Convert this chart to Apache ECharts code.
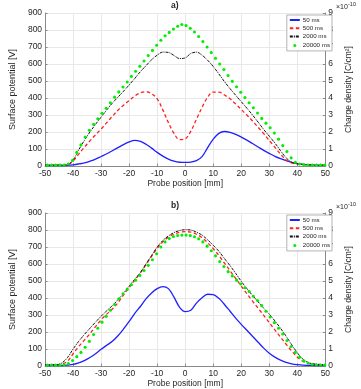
<!DOCTYPE html>
<html>
<head>
<meta charset="utf-8">
<script src="https://cdn.jsdelivr.net/npm/echarts@6/dist/echarts.min.js"></script>
<style>
html,body{margin:0;padding:0;background:#fff;}
#c{width:361px;height:389px;}
</style>
</head>
<body>
<div id="c"></div>
<script>
// ---- data ----
const seriesNames = ['50 ms', '500 ms', '2000 ms', '20000 ms'];
const panelTitles = ['a)', 'b)'];
const xTickLabels = [-50, -40, -30, -20, -10, 0, 10, 20, 30, 40, 50];

// probe positions [mm] of the line series
const xLine = [-50,-48,-46,-44,-42,-40,-38,-36,-34,-32,-30,-28,-26,-24,-22,-20,-18,-16,-14,-12,-10,-8,-6,-4,-2,0,2,4,6,8,10,12,14,16,18,20,22,24,26,28,30,32,34,36,38,40,42,44,46,48,50];
// probe positions [mm] of the 20000 ms dots
const xDots = [-49.2,-47.7,-46.2,-44.7,-43.2,-41.7,-40.2,-38.7,-37.2,-35.7,-34.2,-32.7,-31.2,-29.7,-28.2,-26.7,-25.2,-23.7,-22.2,-20.7,-19.2,-17.7,-16.2,-14.7,-13.2,-11.7,-10.2,-8.7,-7.2,-5.7,-4.2,-2.7,-1.2,0.3,1.8,3.3,4.8,6.3,7.8,9.3,10.8,12.3,13.8,15.3,16.8,18.3,19.8,21.3,22.8,24.3,25.8,27.3,28.8,30.3,31.8,33.3,34.8,36.3,37.8,39.3,40.8,42.3,43.8,45.3,46.8,48.3,49.8];

// panel a) surface potential [V]
const a50 = [3,3,3,3,4,7,12,18,28,40,56,72,90,108,126,142,151,145,128,105,80,58,40,28,22,21,23,32,55,108,158,192,203,198,186,170,152,132,112,92,74,57,43,31,21,14,10,7,5,4,3];
const a500 = [5,5,5,5,7,30,70,110,148,183,218,255,292,328,358,385,412,430,437,425,395,330,255,192,155,160,205,275,345,405,435,435,418,395,365,332,300,265,228,190,150,110,70,35,18,12,9,7,6,5,4];
const a2000 = [5,5,5,5,8,35,95,150,200,245,288,330,370,405,440,477,515,555,590,625,652,670,668,650,632,636,662,670,652,622,585,542,496,455,416,378,340,300,258,215,175,135,90,48,22,13,9,7,6,5,4];
const a20000 = [5,5,5,5,6,12,33,80,124,170,210,245,278,310,340,372,405,436,465,494,527,557,587,618,650,680,710,740,766,786,806,822,832,826,810,788,762,732,700,667,634,600,568,532,498,466,434,403,372,343,312,280,252,225,194,158,120,85,48,22,12,8,6,5,5,5,5];

// panel b) surface potential [V]
const b50 = [3,3,3,3,5,9,18,32,50,72,98,122,145,178,218,262,310,350,395,430,455,467,455,405,345,320,328,370,402,422,420,398,362,322,282,245,210,175,140,105,75,52,35,22,13,8,5,4,3,3,3];
const b500 = [8,8,8,12,28,72,115,152,190,232,272,305,335,372,418,462,505,548,596,645,692,730,758,776,786,790,788,775,755,725,690,650,605,560,515,470,425,382,340,298,255,212,170,128,88,52,28,16,11,9,8];
const b2000 = [8,8,8,18,50,100,145,185,222,258,293,325,355,390,428,470,510,550,600,650,700,738,765,785,797,802,800,787,770,742,710,675,632,590,545,498,455,415,378,340,305,265,222,175,125,78,40,20,12,9,8];
const b20000 = [5,5,5,5,7,15,32,55,80,110,145,185,222,258,292,328,362,395,425,452,478,505,533,562,592,625,660,700,730,750,762,768,770,770,767,760,748,730,705,678,648,615,585,555,530,505,482,460,438,410,385,355,322,288,255,222,188,150,115,80,52,30,17,10,7,6,5];

// ---- build the chart ----
const pair = (xs, ys) => xs.map((x, i) => [x, ys[i]]);
const FONT = 'Liberation Sans, Arial, sans-serif';
const TXT = '#262626';
const AX = '#8a8a8a';
const GRID = '#e8e8e8';

const panels = [
  {top: 13, height: 153, data: [a50, a500, a2000, a20000]},
  {top: 213, height: 153, data: [b50, b500, b2000, b20000]}
];

const grid = [], xAxis = [], yAxis = [], series = [], legend = [], title = [], graphic = [];

panels.forEach((p, k) => {
  grid.push({left: 25, top: p.top, width: 310, height: p.height, containLabel: false});
  xAxis.push({
    type: 'value', gridIndex: k, min: -50, max: 50, interval: 10,
    name: 'Probe position [mm]', nameLocation: 'middle', nameGap: 13,
    nameTextStyle: {fontFamily: FONT, fontSize: 8.5, color: TXT},
    axisLine: {onZero: false, lineStyle: {color: AX, width: 1}},
    axisTick: {inside: true, length: 2.5, lineStyle: {color: AX}},
    axisLabel: {fontFamily: FONT, fontSize: 8.5, color: TXT, margin: 3,
      formatter: v => xTickLabels.includes(v) ? String(v) : ''},
    splitLine: {show: true, lineStyle: {color: GRID, width: 1}}
  });
  yAxis.push({
    type: 'value', gridIndex: k, min: 0, max: 900, interval: 100, position: 'left',
    name: 'Surface potential [V]', nameLocation: 'middle', nameGap: 16, nameRotate: 90,
    nameTextStyle: {fontFamily: FONT, fontSize: 9, color: TXT},
    axisLine: {show: true, onZero: false, lineStyle: {color: AX, width: 1}},
    axisTick: {show: true, inside: true, length: 2.5, lineStyle: {color: AX}},
    axisLabel: {fontFamily: FONT, fontSize: 8.5, color: TXT, margin: 3},
    splitLine: {show: true, lineStyle: {color: GRID, width: 1}}
  });
  yAxis.push({
    type: 'value', gridIndex: k, min: 0, max: 9, interval: 1, position: 'right',
    name: 'Charge density [C/cm²]', nameLocation: 'middle', nameGap: 13, nameRotate: 90,
    nameTextStyle: {fontFamily: FONT, fontSize: 8.5, color: TXT},
    axisLine: {show: true, onZero: false, lineStyle: {color: AX, width: 1}},
    axisTick: {show: true, inside: true, length: 2.5, lineStyle: {color: AX}},
    axisLabel: {fontFamily: FONT, fontSize: 8.5, color: TXT, margin: 3},
    splitLine: {show: false}
  });
  const yi = k * 2;
  const [s50, s500, s2000, s20000] = p.data;
  series.push({
    name: seriesNames[0], type: 'line', xAxisIndex: k, yAxisIndex: yi,
    data: pair(xLine, s50), symbol: 'none', smooth: 0.35,
    lineStyle: {color: '#1f1fff', width: 1.3}, itemStyle: {color: '#1f1fff'}, z: 3
  });
  series.push({
    name: seriesNames[1], type: 'line', xAxisIndex: k, yAxisIndex: yi,
    data: pair(xLine, s500), symbol: 'none', smooth: 0.35,
    lineStyle: {color: '#ff2020', width: 1.3, type: [3.5, 2.5]}, itemStyle: {color: '#ff2020'}, z: 4
  });
  series.push({
    name: seriesNames[2], type: 'line', xAxisIndex: k, yAxisIndex: yi,
    data: pair(xLine, s2000), symbol: 'none', smooth: 0.35,
    lineStyle: {color: '#111111', width: 1, type: [3, 1, 1, 1]}, itemStyle: {color: '#111111'}, z: 5
  });
  series.push({
    name: seriesNames[3], type: 'scatter', xAxisIndex: k, yAxisIndex: yi,
    data: pair(xDots, s20000), symbol: 'circle', symbolSize: 3.1,
    itemStyle: {color: '#00ee00', opacity: 1}, z: 6
  });
  legend.push({
    orient: 'vertical', right: 29, top: p.top + 2,
    itemWidth: 10, itemHeight: 7, itemGap: 2.3,
    padding: [2, 2, 2, 2],
    backgroundColor: '#ffffff', borderColor: '#a0a0a0', borderWidth: 0.8,
    textStyle: {fontFamily: FONT, fontSize: 6.2, color: TXT, padding: [0, 0, 0, -2]},
    data: [
      {name: seriesNames[0], itemStyle: {opacity: 0}},
      {name: seriesNames[1], itemStyle: {opacity: 0}},
      {name: seriesNames[2], itemStyle: {opacity: 0}},
      {name: seriesNames[3], icon: 'path://M0,0M10,0M10,7M0,7M3.5,3.5a1.5,1.5 0 1,0 3,0a1.5,1.5 0 1,0 -3,0Z'}
    ]
  });
  title.push({
    text: panelTitles[k], left: 171, top: p.top - 12,
    textStyle: {fontFamily: FONT, fontSize: 8.5, fontWeight: 'bold', color: TXT}, padding: 0
  });
  graphic.push({type: 'text', left: 336, top: p.top - 9,
    style: {text: '×10', font: '7px ' + FONT, fill: TXT}});
  graphic.push({type: 'text', left: 348, top: p.top - 12,
    style: {text: '-10', font: '5.5px ' + FONT, fill: TXT}});
});

const chart = echarts.init(document.getElementById('c'), null, {renderer: 'canvas'});
chart.setOption({
  animation: false,
  backgroundColor: '#ffffff',
  title, grid, xAxis, yAxis, series, legend, graphic
});
</script>
</body>
</html>
